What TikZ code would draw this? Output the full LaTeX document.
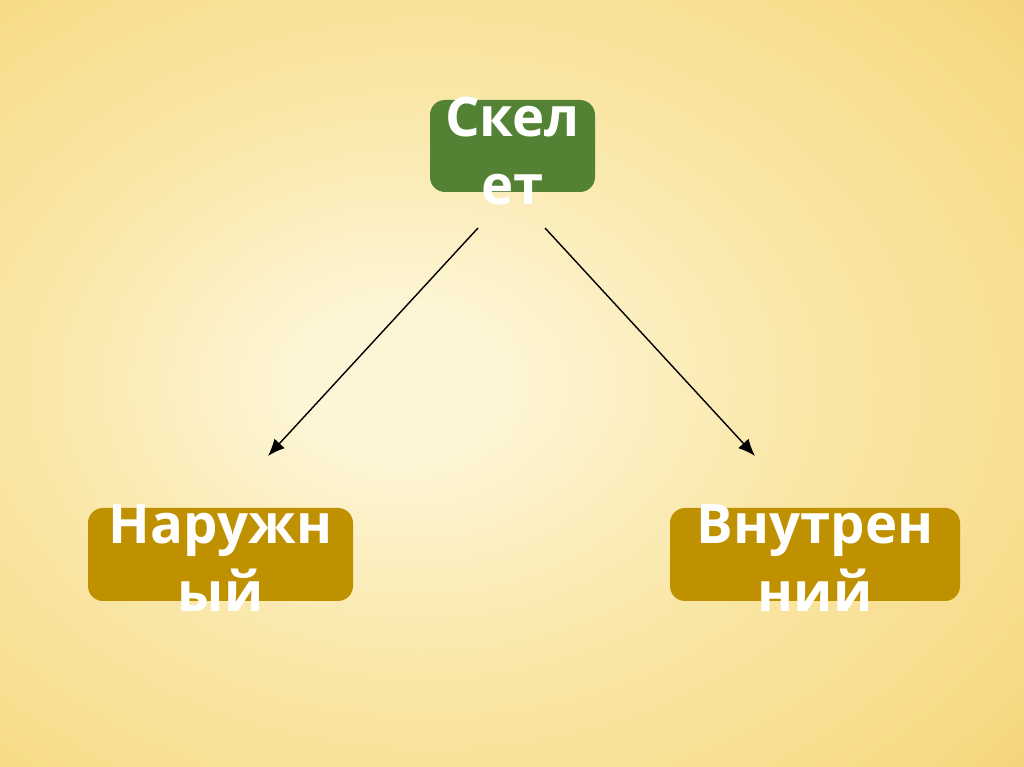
\documentclass[tikz,border=0pt]{standalone}
\usepackage{fontspec}
\setmainfont{Open Sans}
\usetikzlibrary{arrows.meta}
\definecolor{skelgreen}{HTML}{548235}
\definecolor{leafgold}{HTML}{BF9000}
\definecolor{bgin}{HTML}{FDF5D5}
\definecolor{bgmid}{HTML}{F9E6A4}
\definecolor{bgrim}{HTML}{F7D983}
\definecolor{bgout}{HTML}{EEB95A}
\pgfdeclareradialshading{slide}{\pgfpoint{-6bp}{0bp}}{color(0bp)=(bgin); color(5bp)=(bgin); color(20bp)=(bgmid); color(35bp)=(bgrim); color(48bp)=(bgout); color(70bp)=(bgout)}
\tikzstyle{skelbox}=[fill=skelgreen, rounded corners=0.3cm, minimum width=3.3cm, minimum height=1.84cm]
\tikzstyle{leafbox}=[fill=leafgold, rounded corners=0.3cm, minimum height=1.86cm]
\tikzstyle{word}=[text=white, font=\fontsize{31}{38.7}\selectfont\bfseries, align=center, inner sep=0pt, anchor=north]

\begin{document}
\begin{tikzpicture}[>={Latex[length=3.4mm,width=2.8mm]}]
      \shade[shading=slide] (0,0) rectangle (20.48,15.34);
      \useasboundingbox (0,0) rectangle (20.48,15.34);

      \node [skelbox] (skel) at (10.25,12.42) {};
      \node [leafbox, minimum width=5.3cm] (naruzh) [below of=skel, node distance=8.17cm, xshift=-5.84cm] {};
      \node [leafbox, minimum width=5.8cm] (vnutr) [below of=skel, node distance=8.17cm, xshift=6.05cm] {};

      \node [word] (skeltxt) at ([yshift=0.06cm]skel.north) {Скел\\ет};
      \node [word] (naruzhtxt) at ([yshift=0.06cm]naruzh.north) {Наружн\\ый};
      \node [word] (vnutrtxt) at ([yshift=0.06cm]vnutr.north) {Внутрен\\ний};

      \node (s1) [coordinate, below of=skel, node distance=1.64cm, xshift=-0.69cm] {};
      \node (s2) [coordinate, below of=skel, node distance=1.64cm, xshift=0.65cm] {};
      \node (e1) [coordinate, above of=naruzh, node distance=1.97cm, xshift=0.95cm] {};
      \node (e2) [coordinate, above of=vnutr, node distance=1.97cm, xshift=-1.2cm] {};

      \path[->, line width=0.8pt] (s1) edge node {} (e1);
      \path[->, line width=0.8pt] (s2) edge node {} (e2);
\end{tikzpicture}
\end{document}
